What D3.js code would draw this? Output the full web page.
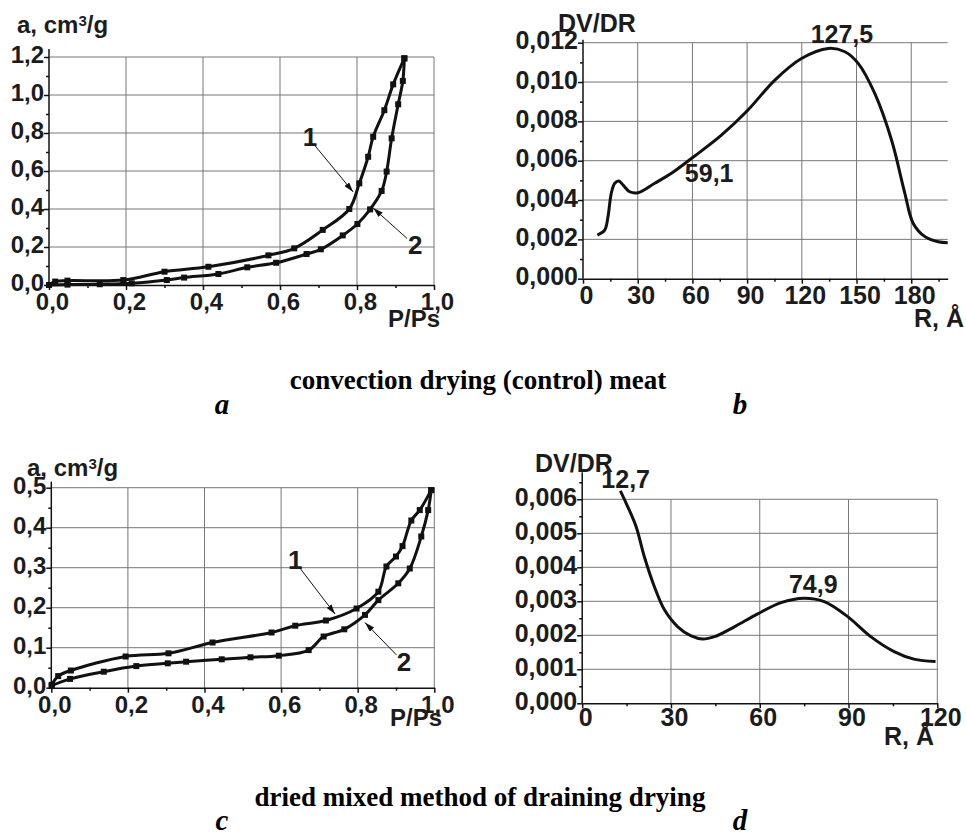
<!DOCTYPE html>
<html>
<head>
<meta charset="utf-8">
<script src="https://cdnjs.cloudflare.com/ajax/libs/d3/7.8.5/d3.min.js"></script>
<style>
  body { margin: 0; background: #fff; }
  svg text { font-family: "Liberation Sans", Arial, sans-serif; font-weight: bold; fill: #1c1c1c; }
  .grid line { stroke: #777; stroke-width: 1; }
  .axis path, .axis line { stroke: #111; stroke-width: 1.5; }
  .curve { fill: none; stroke: #111; stroke-width: 3; stroke-linejoin: round; }
  .pt { fill: #111; }
  .arrow { stroke: #111; stroke-width: 1; }
  .caption { font-family: "Liberation Serif", "Times New Roman", serif; }
</style>
</head>
<body>
<script>
// ---- data: panel a (isotherms, convection drying) ----
var aP1 = [0, 0.016, 0.048, 0.193, 0.30, 0.414, 0.57, 0.637, 0.711, 0.78, 0.806, 0.829, 0.842, 0.871, 0.894, 0.923];
var aV1 = [0.0, 0.018, 0.023, 0.026, 0.07, 0.096, 0.156, 0.193, 0.29, 0.40, 0.535, 0.675, 0.78, 0.92, 1.056, 1.193];
var aP2 = [0, 0.048, 0.132, 0.215, 0.306, 0.351, 0.44, 0.515, 0.59, 0.669, 0.706, 0.763, 0.801, 0.834, 0.864, 0.877, 0.89, 0.907, 0.919, 0.923];
var aV2 = [0, 0.002, 0.004, 0.009, 0.026, 0.039, 0.058, 0.093, 0.117, 0.163, 0.188, 0.261, 0.321, 0.398, 0.495, 0.597, 0.772, 0.951, 1.074, 1.193];

// ---- panel b (pore distribution, convection drying) ----
var bR = [7.9, 11.9, 13.7, 15.5, 17.4, 19.6, 22, 25.6, 30.2, 39.3, 48.5, 60.7, 75.9, 90.5, 105.2, 119.8, 134.5, 143.6, 150.9, 160, 169.2, 176.5, 181.1, 187.5, 194.8, 200];
var bDV = [0.00222, 0.00247, 0.00315, 0.00434, 0.00485, 0.00497, 0.00476, 0.00442, 0.00437, 0.00485, 0.00536, 0.0062, 0.0073, 0.00858, 0.0101, 0.0112, 0.01171, 0.01154, 0.01095, 0.00942, 0.00705, 0.00434, 0.00281, 0.00214, 0.00188, 0.00183];

// ---- panel c (isotherms, mixed drying) ----
var cP1 = [0.001, 0.018, 0.051, 0.194, 0.306, 0.421, 0.575, 0.637, 0.717, 0.797, 0.854, 0.875, 0.9, 0.917, 0.94, 0.962, 0.992];
var cV1 = [0.007, 0.029, 0.043, 0.078, 0.086, 0.113, 0.138, 0.155, 0.168, 0.198, 0.24, 0.303, 0.328, 0.354, 0.418, 0.444, 0.494];
var cP2 = [0.001, 0.049, 0.137, 0.222, 0.304, 0.352, 0.445, 0.52, 0.594, 0.672, 0.711, 0.765, 0.819, 0.854, 0.906, 0.936, 0.966, 0.984, 0.992];
var cV2 = [0.005, 0.022, 0.04, 0.054, 0.061, 0.065, 0.071, 0.076, 0.08, 0.094, 0.128, 0.146, 0.182, 0.219, 0.261, 0.298, 0.378, 0.444, 0.494];

// ---- panel d (pore distribution, mixed drying) ----
var dR = [12.9, 15.4, 18.2, 21, 24.4, 27.8, 32.3, 36.8, 40.7, 44.7, 51.4, 59.3, 67.2, 75, 81.8, 89.7, 97.5, 105.4, 112.1, 119.4];
var dDV = [0.00625, 0.00578, 0.0052, 0.00431, 0.00343, 0.00275, 0.00225, 0.00198, 0.00189, 0.00196, 0.00225, 0.00263, 0.00296, 0.00309, 0.00299, 0.00255, 0.00196, 0.00152, 0.0013, 0.00123];

// ---- ticks ----
var isoXTicks = [0, 0.2, 0.4, 0.6, 0.8, 1.0];
var isoXMinor = [0.1, 0.3, 0.5, 0.7, 0.9];
var aYTicks = [0, 0.2, 0.4, 0.6, 0.8, 1.0, 1.2];
var aYMinor = [0.1, 0.3, 0.5, 0.7, 0.9, 1.1];
var bXTicks = [0, 30, 60, 90, 120, 150, 180];
var bXMinor = [15, 45, 75, 105, 135, 165, 195];
var bYTicks = [0, 0.002, 0.004, 0.006, 0.008, 0.010, 0.012];
var bYMinor = [0.001, 0.003, 0.005, 0.007, 0.009, 0.011];
var cYTicks = [0, 0.1, 0.2, 0.3, 0.4, 0.5];
var cYMinor = [0.05, 0.15, 0.25, 0.35, 0.45];
var dXTicks = [0, 30, 60, 90, 120];
var dXMinor = [15, 45, 75, 105];
var dYTicks = [0, 0.001, 0.002, 0.003, 0.004, 0.005, 0.006];
var dYMinor = [0.0005, 0.0015, 0.0025, 0.0035, 0.0045, 0.0055, 0.0065];

// ---- annotations ----
var aNotes = [{t: "1", x: 0.678, y: 0.78, fx: 0.686, fy: 0.745, tx: 0.79, ty: 0.49},
              {t: "2", x: 0.951, y: 0.21, fx: 0.93, fy: 0.245, tx: 0.842, ty: 0.405}];
var cNotes = [{t: "1", x: 0.637, y: 0.319, fx: 0.65, fy: 0.298, tx: 0.741, ty: 0.184},
              {t: "2", x: 0.921, y: 0.065, fx: 0.901, fy: 0.082, tx: 0.819, ty: 0.163}];
var bPeaks = [{t: "127,5", x: 142, y: 0.0120}, {t: "59,1", x: 69.2, y: 0.00494}];
var dPeaks = [{t: "12,7", x: 14.7, y: 0.00633}, {t: "74,9", x: 78.1, y: 0.00324}];

var w = 966, h = 836;

var svg = d3.select("body").append("svg")
    .attr("width", w)
    .attr("height", h);

svg.append("rect").attr("width", w).attr("height", h).attr("fill", "#fff");

svg.append("defs").append("marker")
    .attr("id", "head")
    .attr("viewBox", "0 0 10 6")
    .attr("refX", 10).attr("refY", 3)
    .attr("markerWidth", 10).attr("markerHeight", 6)
    .attr("markerUnits", "userSpaceOnUse")
    .attr("orient", "auto")
  .append("path")
    .attr("d", "M0,0L10,3L0,6Z")
    .attr("fill", "#111");

function comma(f) {
  return function(d) { return d3.format(f)(d).replace(".", ","); };
}

function zip(xs, ys) {
  return xs.map(function(v, i) { return {x: v, y: ys[i]}; });
}

function drawPanel(p) {
  var x = d3.scaleLinear().domain(p.xDom).range([p.left, p.right]);
  var y = d3.scaleLinear().domain(p.yDom).range([p.bottom, p.top]);
  var g = svg.append("g");
  var fs = p.fs + "px";

  // grid lines
  var grid = g.append("g").attr("class", "grid");
  grid.selectAll(".v").data(p.xTicks.slice(1)).enter().append("line")
      .attr("x1", function(d) { return x(d); })
      .attr("x2", function(d) { return x(d); })
      .attr("y1", y(p.yDom[0]))
      .attr("y2", y(p.yDom[1]));
  grid.selectAll(".h").data(p.yTicks.slice(1)).enter().append("line")
      .attr("x1", x(p.xDom[0]))
      .attr("x2", x(p.xDom[1]))
      .attr("y1", function(d) { return y(d); })
      .attr("y2", function(d) { return y(d); });

  // x axis
  var xa = g.append("g")
      .attr("class", "axis")
      .attr("transform", "translate(0," + p.bottom + ")")
      .call(d3.axisBottom(x).tickValues(p.xTicks).tickSize(5).tickSizeOuter(0).tickPadding(p.xPad).tickFormat(p.xFmt));
  xa.selectAll("text")
      .attr("dx", 3)
      .style("font-size", fs);

  g.append("g")
      .attr("class", "axis")
      .attr("transform", "translate(0," + p.bottom + ")")
      .call(d3.axisBottom(x).tickValues(p.xMinor).tickSize(3).tickFormat(""))
      .select(".domain").remove();

  // y axis
  var ya = g.append("g")
      .attr("class", "axis")
      .attr("transform", "translate(" + p.left + ",0)")
      .call(d3.axisLeft(y).tickValues(p.yTicks).tickSize(5).tickSizeOuter(0).tickPadding(0).tickFormat(p.yFmt));
  ya.select(".domain").attr("d", "M0," + p.bottom + "V" + (p.top - p.ext));
  ya.selectAll("text")
      .attr("dy", "0.24em")
      .style("font-size", fs);

  g.append("g")
      .attr("class", "axis")
      .attr("transform", "translate(" + p.left + ",0)")
      .call(d3.axisLeft(y).tickValues(p.yMinor).tickSize(3).tickFormat(""))
      .select(".domain").remove();

  // titles
  var yt = g.append("text")
      .attr("x", p.yTitle[0])
      .attr("y", p.yTitle[1])
      .style("font-size", fs);
  if (p.iso) {
    yt.append("tspan").text("a, cm");
    yt.append("tspan").attr("dy", -7).style("font-size", "15px").text("3");
    yt.append("tspan").attr("dy", 7).text("/g");
  } else {
    yt.text("DV/DR");
  }
  g.append("text")
      .attr("x", p.xTitle[0])
      .attr("y", p.xTitle[1])
      .attr("text-anchor", "end")
      .style("font-size", fs)
      .text(p.iso ? "P/Ps" : "R, \u00c5");

  // curves
  var line = d3.line()
      .x(function(d) { return x(d.x); })
      .y(function(d) { return y(d.y); })
      .curve(d3.curveCatmullRom.alpha(0.5));

  p.series.forEach(function(s) {
    g.append("path")
        .datum(s)
        .attr("class", "curve")
        .attr("d", line);
    if (p.iso) {
      g.selectAll(null).data(s).enter().append("rect")
          .attr("class", "pt")
          .attr("x", function(d) { return x(d.x) - 3; })
          .attr("y", function(d) { return y(d.y) - 3; })
          .attr("width", 6)
          .attr("height", 6);
    }
  });

  // annotations
  (p.notes || []).forEach(function(n) {
    g.append("line")
        .attr("class", "arrow")
        .attr("x1", x(n.fx)).attr("y1", y(n.fy))
        .attr("x2", x(n.tx)).attr("y2", y(n.ty))
        .attr("marker-end", "url(#head)");
    g.append("text")
        .attr("x", x(n.x))
        .attr("y", y(n.y))
        .attr("dy", "0.36em")
        .attr("text-anchor", "middle")
        .style("font-size", "26px")
        .text(n.t);
  });
  (p.peaks || []).forEach(function(n) {
    g.append("text")
        .attr("x", x(n.x))
        .attr("y", y(n.y))
        .attr("text-anchor", "middle")
        .style("font-size", fs)
        .text(n.t);
  });
}

drawPanel({
  iso: true, left: 49, right: 434, bottom: 285, top: 57, ext: 8, fs: 24,
  xDom: [0, 1], yDom: [0, 1.2],
  xTicks: isoXTicks, xMinor: isoXMinor, yTicks: aYTicks, yMinor: aYMinor,
  xFmt: comma(".1f"), yFmt: comma(".1f"), xPad: 3,
  yTitle: [17, 33], xTitle: [440, 327],
  series: [zip(aP1, aV1), zip(aP2, aV2)],
  notes: aNotes
});

drawPanel({
  iso: false, left: 583, right: 947.7, bottom: 278.7, top: 42.7, ext: 3, fs: 25,
  xDom: [0, 200], yDom: [0, 0.012],
  xTicks: bXTicks, xMinor: bXMinor, yTicks: bYTicks, yMinor: bYMinor,
  xFmt: d3.format("d"), yFmt: comma(".3f"), xPad: 3,
  yTitle: [558, 32], xTitle: [964, 327],
  series: [zip(bR, bDV)],
  peaks: bPeaks
});

drawPanel({
  iso: true, left: 51.3, right: 434.3, bottom: 687.7, top: 487.7, ext: 6, fs: 24,
  xDom: [0, 1], yDom: [0, 0.5],
  xTicks: isoXTicks, xMinor: isoXMinor, yTicks: cYTicks, yMinor: cYMinor,
  xFmt: comma(".1f"), yFmt: comma(".1f"), xPad: 3,
  yTitle: [27, 476], xTitle: [442, 726],
  series: [zip(cP1, cV1), zip(cP2, cV2)],
  notes: cNotes
});

drawPanel({
  iso: false, left: 582.2, right: 937.3, bottom: 703.3, top: 499.3, ext: 27, fs: 25,
  xDom: [0, 120], yDom: [0, 0.006],
  xTicks: dXTicks, xMinor: dXMinor, yTicks: dYTicks, yMinor: dYMinor,
  xFmt: d3.format("d"), yFmt: comma(".3f"), xPad: 0,
  yTitle: [535, 472], xTitle: [934, 745],
  series: [zip(dR, dDV)],
  peaks: dPeaks
});

// captions
var captions = [
  {t: "convection drying (control) meat", x: 478, y: 389, size: 27, it: false},
  {t: "a", x: 222, y: 414, size: 29, it: true},
  {t: "b", x: 740, y: 414, size: 29, it: true},
  {t: "dried mixed method of draining drying", x: 480, y: 806, size: 27, it: false},
  {t: "c", x: 222, y: 830, size: 29, it: true},
  {t: "d", x: 740, y: 830, size: 29, it: true}
];

svg.selectAll(".caption").data(captions).enter().append("text")
    .attr("class", "caption")
    .attr("x", function(d) { return d.x; })
    .attr("y", function(d) { return d.y; })
    .attr("text-anchor", "middle")
    .style("font-size", function(d) { return d.size + "px"; })
    .style("font-style", function(d) { return d.it ? "italic" : "normal"; })
    .style("fill", "#000")
    .text(function(d) { return d.t; });
</script>
</body>
</html>
